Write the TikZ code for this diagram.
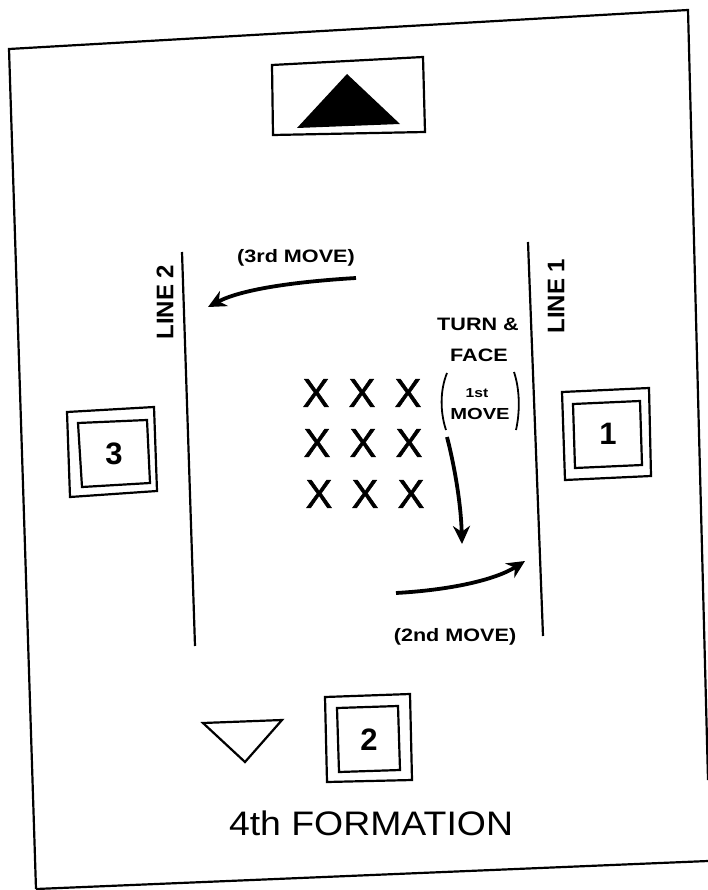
\documentclass[tikz,border=0pt]{standalone}
\usepackage{fontspec}
\setmainfont{Liberation Sans}
\newfontfamily\xfont[FakeBold=1.3]{Liberation Sans}
\usetikzlibrary{arrows.meta}
\begin{document}
\begin{tikzpicture}[x=1pt,y=-1pt,
  frameline/.style={line width=2.2pt},
  boxline/.style={line width=2.2pt},
  dancer/.style={font=\xfont\fontsize{40}{40}\selectfont, inner sep=0pt},
  movelbl/.style={font=\bfseries\fontsize{18}{19}\selectfont, xscale=1.2, inner sep=0pt},
  linelbl/.style={font=\bfseries\fontsize{24}{24}\selectfont, rotate=90, inner sep=0pt},
  numlbl/.style={font=\bfseries\fontsize{31}{31}\selectfont, inner sep=0pt},
  movearrow/.style={line width=3.8pt, -{Stealth[length=18pt,width=17pt]}}]
\useasboundingbox (0,0) rectangle (707,890);
% outer frame
\coordinate (f1) at (9,49);
\coordinate (f2) at (688,10);
\coordinate (f3) at (708,780);
\coordinate (f4) at (708,861);
\coordinate (f5) at (36,889);
\draw[frameline] (f5) -- (f1) -- (f2) -- (f3);
\draw[frameline] (f5) -- (f4);
% top box with filled triangle
\draw[boxline] (272,65) -- (423,57) -- (425,132) -- (273,135) -- cycle;
\fill (347,74) -- (400,124) -- (297,128) -- cycle;
% lines
\coordinate (l2a) at (182,252);
\coordinate (l2b) at (195,646);
\draw[line width=2.2pt] (l2a) -- (l2b);
\node[linelbl] (line2) at (165,302) {LINE 2};
\coordinate (l1a) at (528,242);
\coordinate (l1b) at (543,636);
\draw[line width=2.2pt] (l1a) -- (l1b);
\node[linelbl] (line1) at (556,296) {LINE 1};
% dancers
\foreach \c [count=\i] in {316,362,408}{
  \node[dancer] (xa\i) at (\c,393) {X};
  \node[dancer] (xb\i) at (\c+1,443) {X};
  \node[dancer] (xc\i) at (\c+3,494) {X};
}
% 3rd move
\node[movelbl] (m3) at (296,258) {(3rd MOVE)};
\coordinate (m3s) at (356,278);
\coordinate (m3e) at (208,307);
\draw[movearrow] (m3s) .. controls (290,282) and (240,290) .. (m3e);
% turn & face / 1st move
\node[movelbl] (turn) at (478,324) {TURN \&};
\node[movelbl] (face) at (479,355) {FACE};
\node[movelbl, font=\bfseries\fontsize{13}{14}\selectfont] (first) at (477,393) {1st};
\node[movelbl, font=\bfseries\fontsize{16}{17}\selectfont, xscale=1.05] (move1) at (480,414) {MOVE};
\draw[line width=1.8pt] (447,373) .. controls (440,390) and (440,412) .. (446,430);
\draw[line width=1.8pt] (514,372) .. controls (520,390) and (520,412) .. (516,430);
\coordinate (m1s) at (447,437);
\coordinate (m1e) at (462,544);
\draw[movearrow] (m1s) .. controls (455,468) and (461,505) .. (m1e);
% 2nd move
\coordinate (m2s) at (396,593);
\coordinate (m2e) at (525,561);
\draw[movearrow] (m2s) .. controls (450,590) and (495,580) .. (m2e);
\node[movelbl] (m2) at (455,637) {(2nd MOVE)};
% boxes
\draw[boxline] (67,412) -- (154,407) -- (157,491) -- (70,497) -- cycle;
\draw[boxline] (78,423) -- (147,420) -- (150,483) -- (82,487) -- cycle;
\node[numlbl] (n3) at (114,454) {3};
\draw[boxline] (562,392) -- (649,388) -- (651,476) -- (565,480) -- cycle;
\draw[boxline] (573,404) -- (640,401) -- (642,465) -- (575,468) -- cycle;
\node[numlbl] (n1) at (608,434) {1};
\draw[boxline] (325,697) -- (410,694) -- (412,780) -- (327,782) -- cycle;
\draw[boxline] (337,708) -- (398,706) -- (400,770) -- (339,772) -- cycle;
\node[numlbl] (n2) at (369,740) {2};
% open triangle
\draw[line width=2.2pt, line join=miter] (203,723) -- (282,720) -- (245,762) -- cycle;
% title
\node[font=\fontsize{34}{34}\selectfont, xscale=1.1, inner sep=0pt] (title) at (371,823) {4th FORMATION};
\end{tikzpicture}
\end{document}
